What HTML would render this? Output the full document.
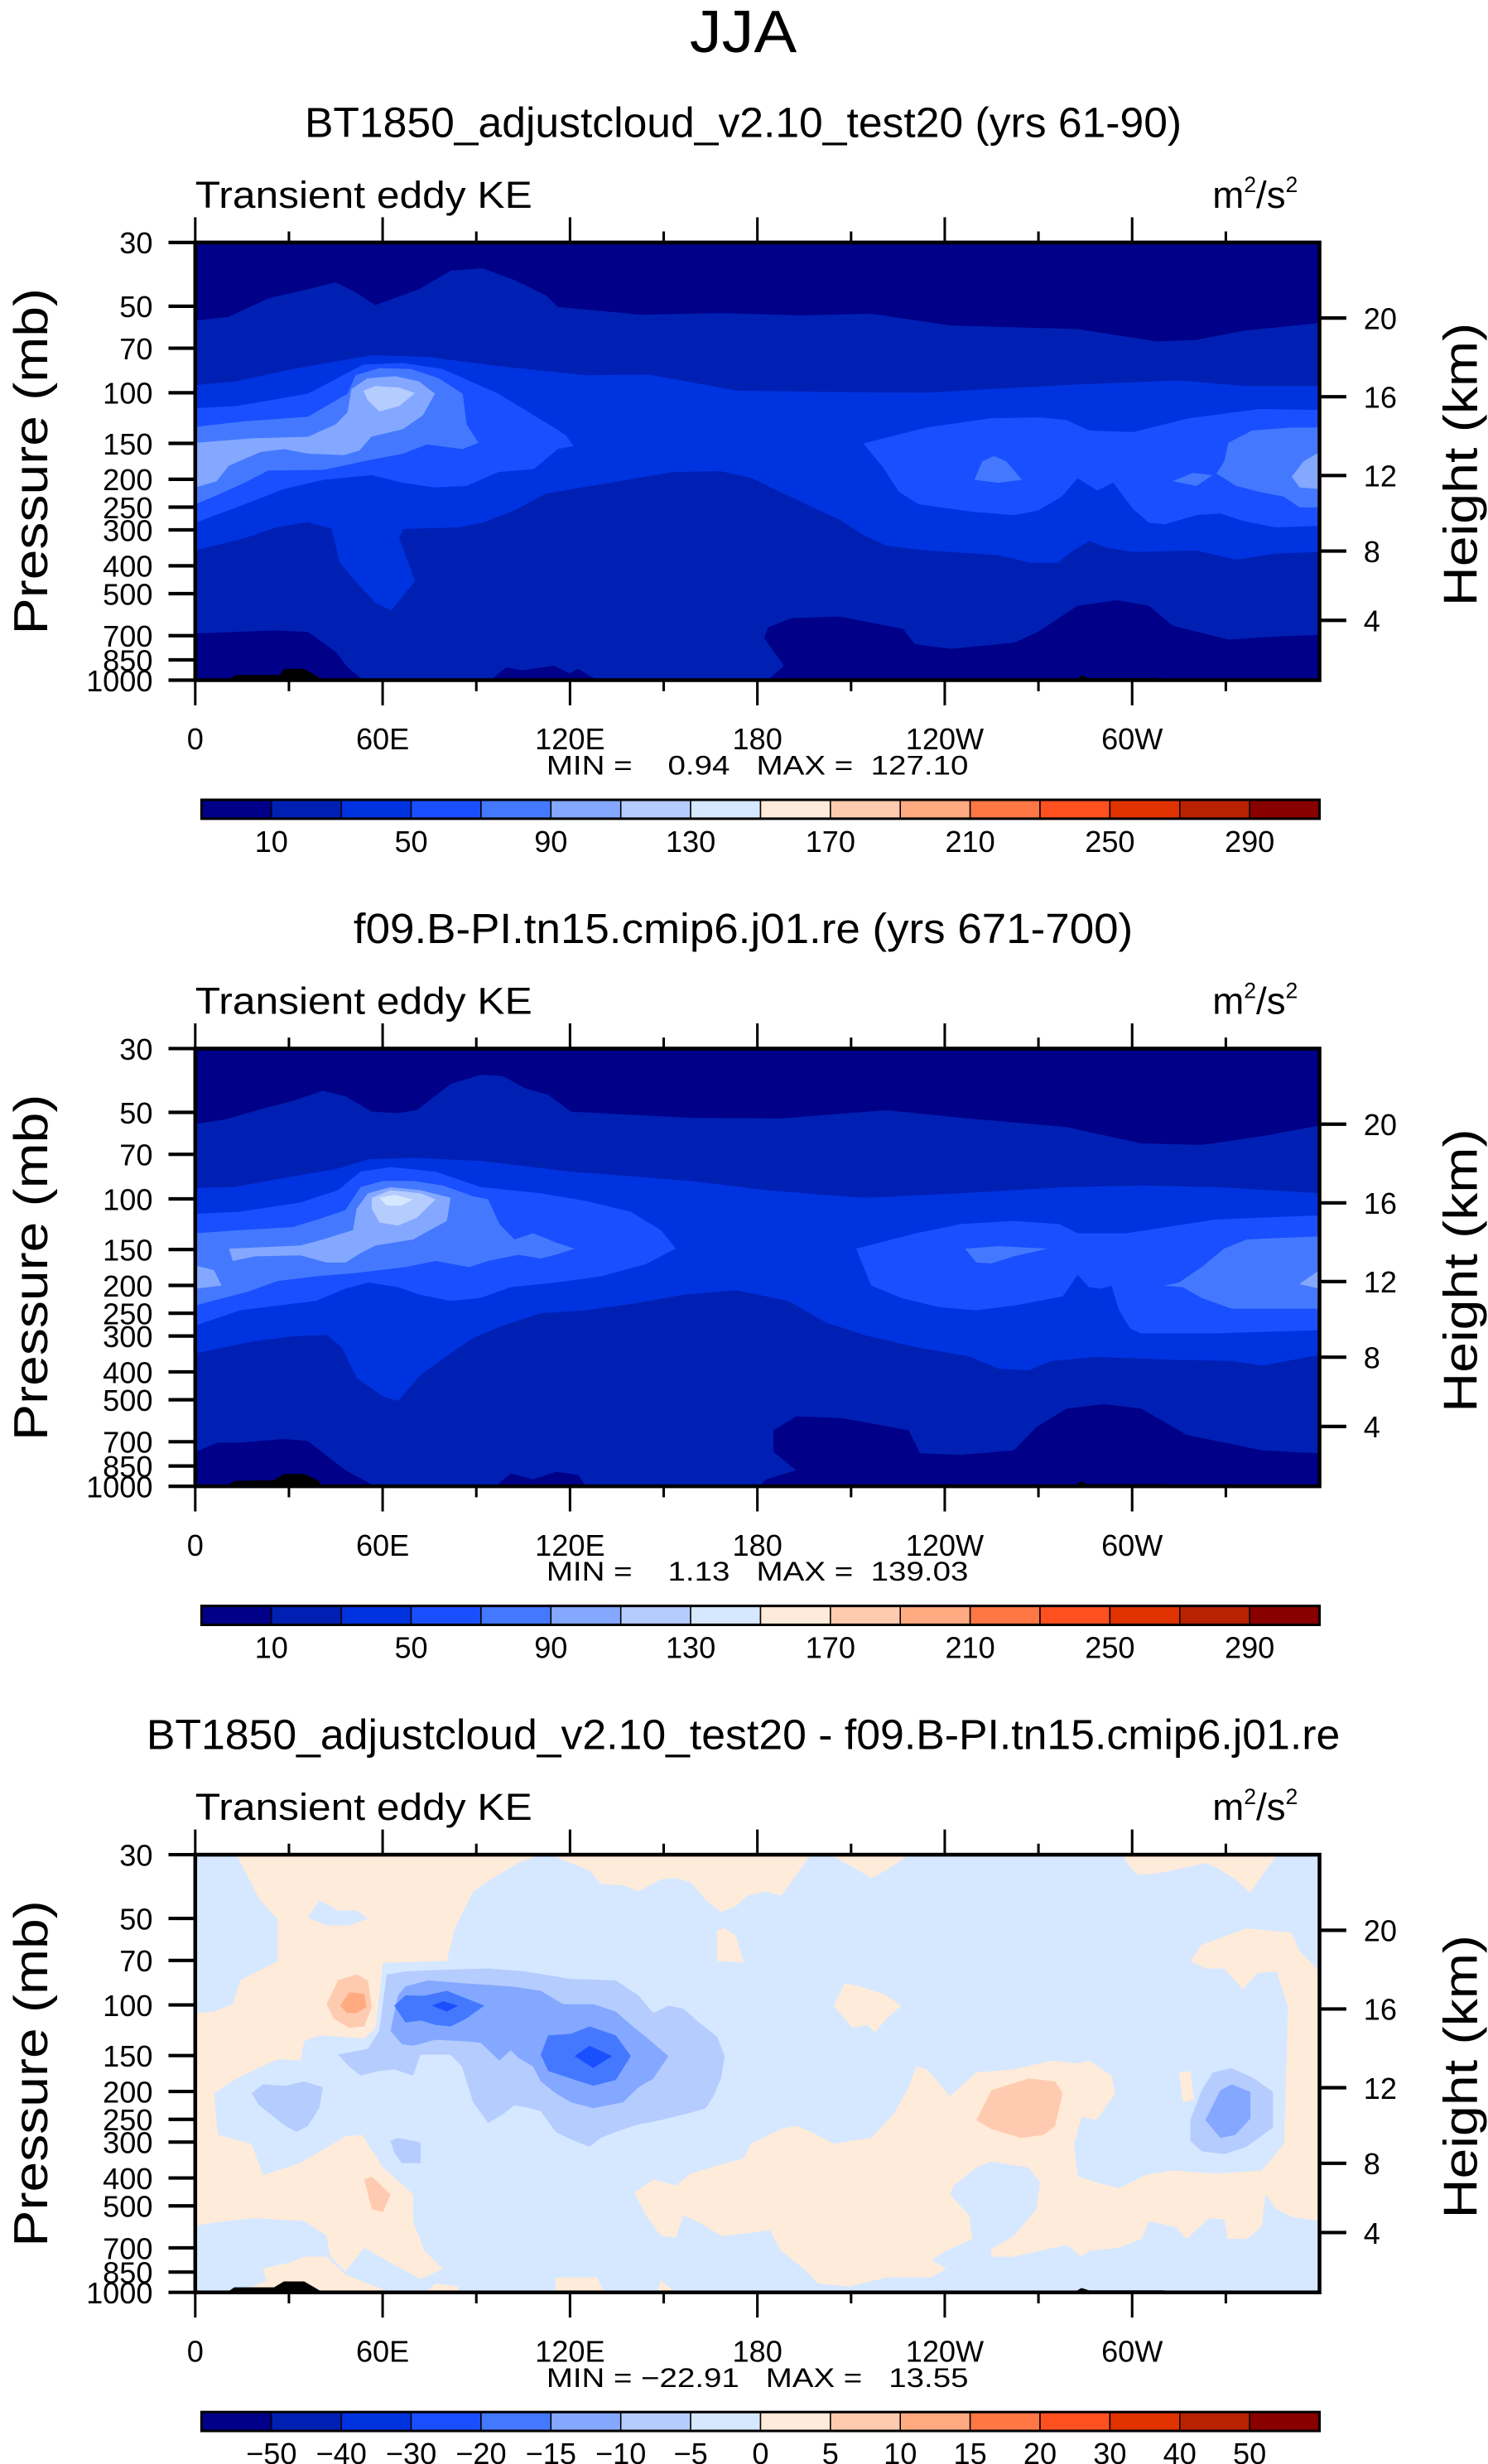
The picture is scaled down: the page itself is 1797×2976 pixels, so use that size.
<!DOCTYPE html>
<html><head><meta charset="utf-8"><style>
html,body{margin:0;padding:0;background:#fff;}
svg{display:block;}
text{font-family:"Liberation Sans","DejaVu Sans",sans-serif;fill:#000;white-space:pre;}
</style></head><body>
<svg id="s" xmlns="http://www.w3.org/2000/svg" width="1797" height="2976" viewBox="0 0 945 1565">
<defs>
<clipPath id="c1"><rect x="124" y="154" width="714" height="278"/></clipPath>
<clipPath id="c2"><rect x="124" y="666" width="714" height="278"/></clipPath>
<clipPath id="c3"><rect x="124" y="1178" width="714" height="278"/></clipPath>
</defs>
<rect width="945" height="1565" fill="#fff"/>
<text x="472" y="33" font-size="38" text-anchor="middle" textLength="68" lengthAdjust="spacingAndGlyphs">JJA</text>

<!-- Plot 1 -->
<g clip-path="url(#c1)">
<rect x="124" y="154" width="714" height="278" fill="#000088"/>
<g transform="translate(124,154) scale(0.50388,0.19522) translate(-38,-88)">
<path fill="#0020b4" d="M38,342 L80,330 130,270 180,240 215,218 240,250 265,292 320,240 360,180 400,172 440,210 480,260 495,298 600,323 700,318 800,325 890,320 990,358 1150,370 1250,410 1300,405 1360,375 1455,350 1455,1365 1400,1370 1340,1380 1270,1335 1240,1270 1200,1252 1150,1270 1100,1355 1070,1390 990,1410 945,1395 930,1345 850,1305 790,1310 760,1340 755,1375 780,1465 760,1512 250,1512 230,1470 215,1420 180,1355 140,1350 38,1360Z"/>
<path fill="#000088" d="M410,1512 L430,1470 450,1480 490,1465 510,1490 520,1475 545,1512Z"/>
<path fill="#0033e0" d="M38,552 L90,540 160,500 260,455 330,460 420,490 530,520 610,518 720,570 850,575 960,577 1040,565 1150,550 1280,537 1360,555 1455,555 1455,1095 1400,1100 1350,1120 1300,1090 1220,1095 1185,1080 1165,1058 1145,1090 1125,1130 1090,1130 1050,1105 960,1090 910,1075 880,1040 850,990 800,930 740,855 700,832 640,835 560,870 480,905 440,960 400,1000 370,1015 300,1020 295,1050 315,1190 285,1285 265,1260 240,1190 220,1130 210,1020 180,998 140,1015 100,1050 38,1090Z"/>
<path fill="#1a4fff" d="M38,627 L90,620 180,580 250,485 300,480 350,500 420,580 490,690 505,715 515,750 495,760 465,825 420,835 380,880 340,885 300,870 260,845 200,860 150,890 100,940 38,1000Z"/>
<path fill="#1a4fff" d="M880,742 L960,690 1040,660 1100,657 1135,665 1165,700 1220,705 1290,660 1380,630 1455,633 1455,1010 1400,1015 1360,995 1330,970 1300,975 1260,1005 1240,1000 1220,955 1195,870 1175,895 1150,855 1130,915 1100,960 1070,975 1020,965 950,940 925,900 905,820Z"/>
<path fill="#4479ff" d="M38,688 L100,670 180,655 230,580 240,520 270,497 310,500 345,530 375,580 380,680 395,740 375,760 330,745 300,775 250,800 200,828 130,830 100,870 70,905 38,940Z"/>
<path fill="#4479ff" d="M1340,740 L1370,700 1420,690 1455,690 1455,950 1430,950 1410,915 1380,900 1350,880 1325,840 1335,800Z M1020,860 L1030,800 1045,783 1060,800 1080,860 1050,870Z M1270,865 L1295,838 1320,845 1300,880Z"/>
<path fill="#84a8ff" d="M38,740 L110,725 180,720 215,680 230,640 235,565 255,530 290,523 320,540 340,580 325,650 300,695 260,720 245,765 225,780 180,775 150,760 120,770 80,815 65,865 38,885Z M1420,850 L1435,800 1455,770 1455,890 1430,885Z"/>
<path fill="#b5ccff" d="M250,570 L265,555 295,560 315,578 295,620 270,638 255,600Z"/>
<path fill="#000" d="M78,1512 L90,1495 145,1495 150,1475 175,1475 200,1512Z M1150,1512 L1155,1495 1162,1505 1255,1505 1258,1512Z"/>
</g></g>

<!-- Plot 2 -->
<g clip-path="url(#c2)">
<rect x="124" y="666" width="714" height="278" fill="#000088"/>
<g transform="translate(124,666) scale(0.47695,0.19550) translate(-40,-70)">
<path fill="#0020b4" d="M40,315 L80,300 130,265 170,240 210,207 240,225 275,275 310,280 335,270 380,185 420,155 450,160 480,200 510,220 540,275 700,295 820,297 960,270 1060,295 1200,325 1300,378 1380,383 1460,355 1537,320 1537,1385 1460,1375 1360,1325 1300,1240 1250,1225 1200,1240 1160,1300 1130,1375 1060,1390 1005,1385 990,1310 900,1270 840,1265 810,1310 810,1380 840,1440 800,1470 790,1492 280,1492 240,1440 190,1345 160,1338 100,1350 70,1350 40,1380Z"/>
<path fill="#000088" d="M440,1492 L460,1450 490,1470 520,1445 550,1455 560,1492Z"/>
<path fill="#0033e0" d="M40,523 L90,520 160,490 230,460 270,430 330,425 420,435 540,470 700,500 800,530 930,555 1060,540 1200,520 1300,515 1400,520 1537,540 1537,1065 1460,1100 1420,1085 1330,1080 1240,1072 1180,1085 1150,1115 1110,1110 1070,1070 1000,1040 930,1000 880,960 830,890 760,855 690,870 620,900 560,920 500,930 450,970 410,1010 380,1060 340,1130 310,1215 290,1200 255,1140 235,1040 215,1000 170,1005 120,1020 40,1060Z"/>
<path fill="#1a4fff" d="M40,607 L100,600 180,570 230,530 260,470 300,455 360,470 420,520 500,540 560,565 620,600 660,660 680,720 640,770 580,810 520,830 460,845 420,880 380,890 340,870 310,845 270,830 240,850 200,890 150,905 100,920 40,970Z"/>
<path fill="#1a4fff" d="M920,720 L1000,670 1060,640 1130,630 1190,640 1215,670 1280,670 1400,625 1537,612 1537,985 1400,995 1300,995 1285,980 1270,920 1260,840 1245,850 1230,845 1215,805 1195,875 1130,905 1080,920 1030,910 980,880 940,840Z"/>
<path fill="#4479ff" d="M40,670 L100,660 170,650 210,620 240,595 260,520 290,500 330,500 370,515 410,550 430,560 445,640 465,690 490,670 520,700 545,720 520,740 500,752 470,740 430,760 405,780 360,760 320,780 250,800 200,810 150,825 110,860 70,885 40,905Z"/>
<path fill="#4479ff" d="M1410,720 L1440,690 1537,680 1537,915 1420,915 1380,880 1355,845 1330,840 1350,830 1380,780Z M1065,720 L1110,712 1175,720 1130,745 1100,768 1080,765Z"/>
<path fill="#84a8ff" d="M85,720 L180,710 210,690 250,660 255,590 270,540 300,520 340,530 380,555 375,630 330,690 280,710 260,735 240,765 215,765 180,742 120,745 90,760Z M40,775 L65,790 75,840 40,850Z M1510,835 L1537,790 1537,850Z"/>
<path fill="#b5ccff" d="M275,555 L300,530 340,540 360,560 335,620 310,645 285,635 275,590Z"/>
<path fill="#d6e8ff" d="M285,555 L305,545 330,560 315,580 295,580Z"/>
<path fill="#000" d="M82,1492 L92,1475 145,1472 158,1452 185,1452 205,1475 207,1492Z M1210,1492 L1220,1475 1228,1485 1330,1485 1330,1492Z"/>
</g></g>

<!-- Plot 3 -->
<g clip-path="url(#c3)">
<rect x="124" y="1178" width="714" height="278" fill="#d6e8ff"/>
<g transform="translate(124,1178) scale(0.47695,0.18873) translate(-40,-47)">
<g fill="#ffebd9">
<path d="M95,47 L500,47 470,75 440,120 410,170 385,300 375,405 290,410 280,630 265,665 205,655 185,675 180,740 150,735 120,770 95,800 65,850 70,990 115,1020 130,1125 180,1085 240,995 262,990 290,1100 330,1190 330,1280 345,1380 370,1440 340,1475 300,1420 265,1370 240,1450 220,1400 215,1330 185,1280 150,1275 120,1270 80,1280 40,1295 40,580 65,575 90,550 100,470 150,405 150,265 125,195Z"/>
<path d="M130,1440 L165,1420 185,1400 215,1400 240,1460 270,1490 300,1520 100,1520 135,1480Z"/>
<path d="M515,47 L860,47 830,150 820,185 800,170 775,185 760,220 740,240 720,200 700,140 680,125 660,130 630,170 610,150 580,145 565,100 530,65Z"/>
<path d="M885,47 L990,47 960,100 940,125 920,95Z"/>
<path d="M735,300 L745,295 760,320 770,410 735,405Z"/>
<path d="M1275,47 L1480,47 1460,120 1445,175 1425,130 1400,90 1385,75 1350,95 1320,110 1295,115 1285,90Z"/>
<path d="M1365,405 L1380,350 1440,295 1500,310 1510,370 1537,440 1537,1280 1500,1265 1480,1240 1465,1190 1460,1300 1440,1340 1415,1340 1410,1275 1390,1270 1360,1340 1345,1300 1310,1280 1300,1340 1270,1370 1230,1380 1220,1400 1200,1360 1130,1400 1100,1400 1100,1375 1130,1330 1160,1240 1165,1150 1150,1100 1100,1080 1080,1100 1050,1160 1045,1190 1070,1260 1075,1340 1040,1380 1020,1410 1040,1440 1020,1470 960,1470 910,1500 870,1490 850,1440 820,1380 805,1310 780,1320 740,1330 715,1290 690,1260 680,1335 660,1330 640,1260 625,1185 650,1140 680,1160 700,1120 740,1090 770,1070 780,1020 820,970 840,960 860,980 890,1020 940,1000 970,920 990,830 1000,760 1015,770 1045,860 1080,780 1130,770 1180,740 1215,750 1230,740 1260,790 1265,850 1240,940 1220,930 1210,1020 1215,1130 1240,1150 1270,1170 1305,1125 1340,1110 1400,1120 1460,1110 1490,1020 1495,560 1480,440 1455,445 1435,500 1410,430 1385,430Z"/>
<path d="M1350,780 L1365,775 1370,870 1355,880Z"/>
<path d="M890,555 L905,480 925,490 960,520 980,555 960,600 945,645 935,620 915,630Z"/>
<path d="M520,1520 L520,1470 575,1470 585,1520Z M345,1520 L360,1490 390,1500 390,1520Z M655,1520 L660,1480 680,1520Z"/>
</g>
<path fill="#d6e8ff" d="M190,260 L205,200 230,235 255,235 270,262 245,285 215,285Z"/>
<path fill="#ffcbb0" d="M215,550 L230,470 255,450 270,470 275,560 265,625 245,630 225,600Z M265,1140 L275,1130 300,1190 290,1250 275,1240Z M1080,940 L1100,840 1150,800 1185,810 1195,850 1185,960 1170,990 1140,1000 1100,970Z"/>
<path fill="#ffaa80" d="M233,555 L245,510 265,515 268,560 255,580 242,580Z"/>
<path fill="#b5ccff" d="M230,720 L270,700 285,640 295,450 320,440 360,435 430,430 480,440 540,465 600,470 630,520 650,580 670,555 690,565 710,610 735,660 745,725 740,800 730,860 720,900 700,915 660,940 630,955 600,980 580,1000 565,1030 540,1005 520,980 500,910 485,900 465,890 450,920 430,950 410,880 395,760 380,720 340,720 330,790 305,770 285,775 260,790 245,760Z M115,850 L130,820 160,825 185,810 210,830 205,900 190,960 175,980 160,960 140,920 125,890Z M300,1010 L310,1000 340,1015 340,1085 315,1085 305,1050Z M1365,940 L1380,840 1395,780 1420,765 1450,800 1475,845 1475,965 1440,1030 1410,1055 1380,1045 1365,1010Z"/>
<path fill="#84a8ff" d="M300,640 L310,520 320,490 350,470 400,480 460,490 500,505 530,550 570,550 600,575 625,630 640,660 670,725 650,800 630,830 610,880 570,900 540,880 520,850 500,810 490,760 470,730 460,705 445,740 420,680 400,675 360,670 330,690 315,685Z M1385,940 L1405,840 1420,820 1445,845 1445,935 1425,990 1405,1000 1395,970Z"/>
<path fill="#4479ff" d="M305,555 L320,520 345,522 375,505 400,530 425,555 400,600 380,625 360,620 340,605 320,612Z M500,720 L510,655 540,650 565,625 600,655 620,725 600,805 570,825 540,800 510,775Z"/>
<path fill="#1a4fff" d="M355,555 L370,540 390,555 375,575Z M545,725 L565,690 595,725 570,765Z"/>
<path fill="#000" d="M82,1520 L92,1503 145,1503 158,1483 185,1483 210,1520Z M1210,1520 L1220,1505 1230,1513 1330,1513 1330,1520Z"/>
</g></g>

<g id="axes"></g>
</svg>
<script>
(function(){
var NS="http://www.w3.org/2000/svg",g=document.getElementById("axes");
function el(n,a,t,parent){var e=document.createElementNS(NS,n);for(var k in a)e.setAttribute(k,a[k]);if(t!==undefined)e.textContent=t;(parent||g).appendChild(e);return e;}
function line(x1,y1,x2,y2,w){el("line",{x1:x1,y1:y1,x2:x2,y2:y2,stroke:"#000","stroke-width":w||1.6});}
function txt(x,y,s,fs,anchor,len,extra){var a={x:x,y:y,"font-size":fs,"text-anchor":anchor||"start"};if(len){a.textLength=len;a.lengthAdjust="spacingAndGlyphs";}for(var k in extra)a[k]=extra[k];return el("text",a,s);}
var cols=["#000088","#0020b4","#0033e0","#1a4fff","#4479ff","#84a8ff","#b5ccff","#d6e8ff","#ffebd9","#ffcbb0","#ffaa80","#ff7744","#ff5020","#e03300","#b82200","#880000"];
var titles=["BT1850_adjustcloud_v2.10_test20 (yrs 61-90)","f09.B-PI.tn15.cmip6.j01.re (yrs 671-700)","BT1850_adjustcloud_v2.10_test20 - f09.B-PI.tn15.cmip6.j01.re"];
var tlen=[557,495,758];
var mm=[["MIN =    0.94   MAX =  127.10"],["MIN =    1.13   MAX =  139.03"],["MIN = \u221222.91   MAX =   13.55"]];
var L=124,R=838,H=278;
for(var p=0;p<3;p++){
 var o=p*512,T=154+o,B=T+H;
 txt(472,87+o,titles[p],27,"middle",tlen[p]);
 txt(124,132+o,"Transient eddy KE",24,"start",214);
 var u=el("text",{x:770,y:132+o,"font-size":24});
 el("tspan",{},"m",u);el("tspan",{"font-size":14,"baseline-shift":"70%"},"2",u);
 el("tspan",{},"/s",u);el("tspan",{"font-size":14,"baseline-shift":"70%"},"2",u);
 for(var i=0;i<12;i++){var x=L+i*(R-L)/12;var len=(i%2==0)?16:7;line(x,T,x,T-len);line(x,B,x,B+len);}
 var xl=["0","60E","120E","180","120W","60W"];
 for(var i=0;i<6;i++)txt(L+i*(R-L)/6,476+o,xl[i],19,"middle");
 var ps=[30,50,70,100,150,200,250,300,400,500,700,850,1000];
 for(var i=0;i<ps.length;i++){var y=T+Math.log(ps[i]/30)/Math.log(1000/30)*H;line(L-17,y,L,y,2.2);txt(97,y+7,String(ps[i]),19,"end");}
 var hs=[[20,202],[16,252],[12,302],[8,350],[4,394]];
 for(var i=0;i<hs.length;i++){var y=hs[i][1]+o;line(R,y,R+17,y,2.2);txt(866,y+7,String(hs[i][0]),19,"start");}
 txt(0,0,"Pressure (mb)",30,"middle",220,{transform:"translate(30,"+(293+o)+") rotate(-90)"});
 txt(0,0,"Height (km)",30,"middle",180,{transform:"translate(938,"+(295+o)+") rotate(-90)"});
 el("rect",{x:L,y:T,width:R-L,height:H,fill:"none",stroke:"#000","stroke-width":2.4});
 txt(481,492+o,mm[p][0],17,"middle",268);
 var cy=508+o,cw=(838-128)/16;
 for(var i=0;i<16;i++)el("rect",{x:128+i*cw,y:cy,width:cw,height:12,fill:cols[i],stroke:"#000","stroke-width":0.8});
 el("rect",{x:128,y:cy,width:710,height:12,fill:"none",stroke:"#000","stroke-width":1.6});
 if(p<2){var lab=["10","50","90","130","170","210","250","290"];for(var i=0;i<8;i++)txt(128+(2*i+1)*cw,541+o,lab[i],19,"middle");}
 else{var lab=["\u221250","\u221240","\u221230","\u221220","\u221215","\u221210","\u22125","0","5","10","15","20","30","40","50"];for(var i=0;i<15;i++)txt(128+(i+1)*cw,541+o,lab[i],19,"middle");}
}
})();
</script>
</body></html>
